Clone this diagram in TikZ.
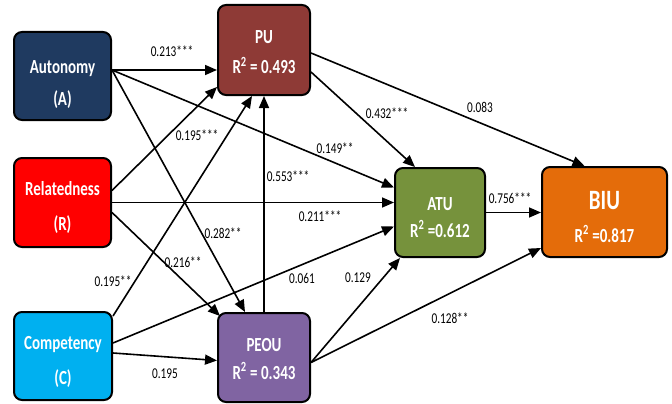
\documentclass[tikz,border=0pt]{standalone}
\usepackage{fontspec}
\setmainfont{Carlito}[FakeStretch=0.75]
\usetikzlibrary{arrows.meta}

\definecolor{autblue}{HTML}{1F3A60}
\definecolor{pured}{HTML}{8E3A36}
\definecolor{relred}{HTML}{FF0000}
\definecolor{comblue}{HTML}{00B0F0}
\definecolor{peoupurple}{HTML}{8064A2}
\definecolor{atugreen}{HTML}{76923C}
\definecolor{biuorange}{HTML}{E46C0A}

\begin{document}
\begin{tikzpicture}[x=1pt, y=-1pt, line width=1.6pt, >={Triangle[length=12pt,width=10pt]}]
	
	% Stili per i costrutti e i coefficienti
	\tikzset{
		construct/.style={
			draw=black,
			line width=2pt,
			rounded corners=8pt,
			text=white,
			align=center,
			inner sep=0pt,
			text depth=0pt,
			text height=#1,
			font=\bfseries\fontsize{20}{27}\selectfont
		},
		construct/.default=48pt,
		coef/.style={
			inner sep=1pt,
			font=\fontsize{15}{18}\selectfont
		}
	}
	
	\useasboundingbox (0,0) rectangle (672,404);
	
	% Costrutti a sinistra
	\node[construct=58pt, fill=autblue, minimum width=97, minimum height=88] (A) at (62.5, 76) {Autonomy\\[5pt](A)};
	\node[construct=56pt, fill=relred, minimum width=97, minimum height=89] (R) at (62.5, 202.5) {Relatedness\\[8pt](R)};
	\node[construct=56pt, fill=comblue, minimum width=98, minimum height=88] (C) at (63, 356) {Competency\\[8pt](C)};
	
	% Costrutti intermedi e finali
	\node[construct=48pt, fill=pured, minimum width=92, minimum height=90] (PU) at (264, 50) {PU\\[3pt]R\textsuperscript{2} = 0.493};
	\node[construct=44pt, fill=peoupurple, minimum width=92, minimum height=89] (PEOU) at (264, 357.5) {PEOU\\[1pt]R\textsuperscript{2} = 0.343};
	\node[construct=50pt, fill=atugreen, minimum width=90, minimum height=89] (ATU) at (440, 212.5) {ATU\\R\textsuperscript{2} =0.612};
	\node[construct=60pt, fill=biuorange, minimum width=125, minimum height=90] (BIU) at (604.5, 212) {{\fontsize{28}{30}\selectfont BIU}\\[6pt]R\textsuperscript{2} =0.817};
	
	% Frecce da Autonomy
	\draw[->] ([yshift=6pt]A.east) -- ([yshift=-20pt]PU.west);
	\draw[->] ([yshift=6pt]A.east) -- ([yshift=25pt]ATU.west);
	\draw[->] ([yshift=6pt]A.east) -- ([xshift=-19pt]PEOU.north);
	
	% Frecce da Relatedness
	\draw[->] ([yshift=12pt]R.east) -- ([yshift=-37pt]PU.west);
	\draw[->] (R.east) -- (R.east -| ATU.west);
	\draw[->] ([yshift=-10pt]R.east) -- ([xshift=3pt,yshift=-4pt]PEOU.north west);
	
	% Frecce da Competency
	\draw[->] ([yshift=-5pt]C.north east) -- ([xshift=-12pt]PU.south);
	\draw[->] ([yshift=13pt]C.east) -- ([yshift=-14pt]ATU.west);
	\draw[->] ([yshift=3pt]C.east) -- ([yshift=-3pt]PEOU.west);
	
	% Frecce tra PU, PEOU, ATU e BIU
	\draw[->] (PEOU.north) -- (PU.south);
	\draw[->] ([yshift=-22pt]PU.east) -- ([xshift=-25pt]ATU.north);
	\draw[->] ([yshift=-3pt]PU.east) -- ([xshift=-20pt]BIU.north);
	\draw[->] (ATU.east) -- (ATU.east -| BIU.west);
	\draw[->] ([yshift=-5pt]PEOU.east) -- ([xshift=-40pt]ATU.south);
	\draw[->] ([yshift=-5pt]PEOU.east) -- ([yshift=-36pt]BIU.west);
	
	% Coefficienti
	\node[coef] (kAPU)    at (172, 51)  {0.213***};
	\node[coef] (kAATU)   at (335, 148) {0.149**};
	\node[coef] (kAPEOU)  at (223, 233) {0.282**};
	\node[coef] (kRPU)    at (197, 135) {0.195***};
	\node[coef] (kRATU)   at (320, 216) {0.211***};
	\node[coef] (kRPEOU)  at (183, 262) {0.216**};
	\node[coef] (kCPU)    at (113, 281) {0.195**};
	\node[coef] (kCATU)   at (302, 278) {0.061};
	\node[coef] (kCPEOU)  at (165, 374) {0.195};
	\node[coef] (kPEOUPU) at (288, 176) {0.553***};
	\node[coef] (kPUATU)  at (387, 113) {0.432***};
	\node[coef] (kPUBIU)  at (480, 107) {0.083};
	\node[coef] (kATUBIU) at (510, 198) {0.756***};
	\node[coef] (kPEOUATU) at (358, 278) {0.129};
	\node[coef] (kPEOUBIU) at (450, 318) {0.128**};
	
\end{tikzpicture}
\end{document}
